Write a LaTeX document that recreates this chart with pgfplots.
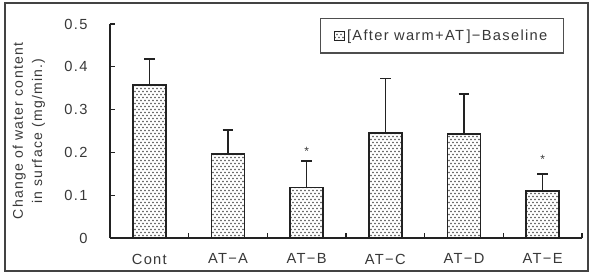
\documentclass[border=0pt]{standalone}
\usepackage{pgfplots}
\pgfplotsset{compat=1.18}
\usepackage{pgfplotstable}
\usepackage{fontspec}
\setmainfont[LetterSpace=9]{Liberation Sans}
\usetikzlibrary{patterns}

% fine staggered dot fill for the bars
\pgfdeclarepatternformonly{bardots}{\pgfqpoint{-1pt}{-1pt}}{\pgfqpoint{4pt}{5.5pt}}{\pgfqpoint{3pt}{4.5pt}}{%
  \pgfpathrectangle{\pgfqpoint{0.35pt}{0.75pt}}{\pgfqpoint{0.8pt}{0.8pt}}%
  \pgfpathrectangle{\pgfqpoint{1.85pt}{3pt}}{\pgfqpoint{0.8pt}{0.8pt}}%
  \pgfusepath{fill}}

\definecolor{ink}{HTML}{222222}
\definecolor{txt}{HTML}{383838}

% x, mean change, standard error (upper only)
\pgfplotstableread{
x  y     err
0  0.357 0.061
1  0.196 0.056
2  0.118 0.062
3  0.246 0.127
4  0.242 0.094
5  0.110 0.040
}\changedata

\begin{document}
\begin{tikzpicture}[x=0.75pt,y=0.75pt]
  \fontsize{11}{13}\selectfont
  \path (0,0) rectangle (593,276);
  \draw[ink!85, line width=1.6pt] (5,5) rectangle (588,273);
  \begin{axis}[
    at={(110*0.75pt,38*0.75pt)}, anchor=south west,
    scale only axis,
    width=354pt, height=160.5pt,
    xmin=-0.5, xmax=5.5, ymin=0, ymax=0.5,
    axis lines=left,
    axis line style={-, ink, line width=1.2pt},
    tick align=inside,
    tick style={ink, line width=0.9pt},
    ytick={0,0.1,...,0.5},
    major tick length=4pt,
    yticklabel style={xshift=-13pt, text=txt},
    /pgf/number format/assume math mode=true,
    /pgf/number format/.cd, fixed, precision=1, /pgfplots/.cd,
    xtick={0,...,5},
    xticklabels={Cont, AT−A, AT−B, AT−C, AT−D, AT−E},
    xticklabel style={yshift=-8pt, text=txt},
    minor xtick={0.5,1.5,...,5.5},
    major x tick style={draw=none},
    minor tick length=4pt,
    ylabel={Change of water content\\in surface (mg/min.)},
    ylabel style={at={(axis description cs:-0.172,0.5)}, anchor=center,
                  align=center, text=txt, font=\fontsize{10.5}{14.5}\selectfont},
    legend style={at={(axis description cs:0.962,1.028)}, anchor=north east,
                  draw=ink!80, line width=1.1pt, text=txt,
                  inner xsep=10pt, inner ysep=6pt,
                  font=\fontsize{11}{13}\selectfont},
    legend image code/.code={%
      \draw[#1, line width=0.6pt] (0pt,-3.6pt) rectangle (7.2pt,3.6pt);},
    clip=false,
  ]
    \addplot[ybar, bar width=24.75pt, draw=ink, line width=1.4pt,
             pattern=bardots, pattern color=ink,
             error bars/.cd, y dir=plus, y explicit,
             error bar style={ink, line width=1.1pt},
             error mark options={ink, line width=1.1pt, rotate=90, mark size=4pt}]
      table[x=x, y=y, y error=err] {\changedata};
    \addlegendentry{[After warm+AT\,]−Baseline}
    \node[text=txt, font=\fontsize{9}{10}\selectfont] at (axis cs:2,0.203) {*};
    \node[text=txt, font=\fontsize{9}{10}\selectfont] at (axis cs:5,0.183) {*};
  \end{axis}
\end{tikzpicture}
\end{document}
